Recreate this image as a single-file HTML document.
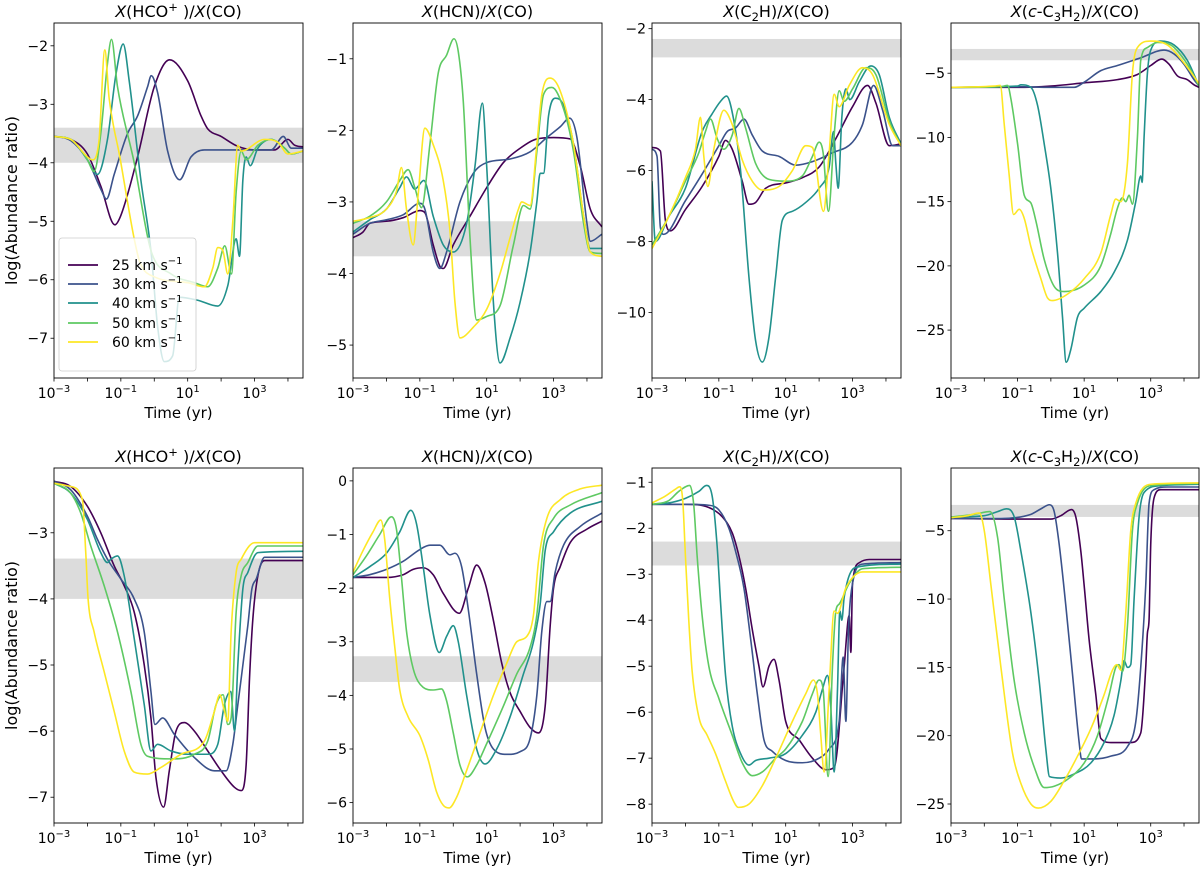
<!DOCTYPE html>
<html><head><meta charset="utf-8">
<style>
html,body{margin:0;padding:0;background:#fff;}
svg{display:block;font-family:"DejaVu Sans","Liberation Sans",sans-serif;}
</style></head>
<body>
<svg id="fig" width="1200" height="871" viewBox="0 0 1200 871" xmlns="http://www.w3.org/2000/svg"></svg>
<script>
// ---- data: [log10(time/yr), log(abundance ratio)] ----
const seriesLabels = ["25","30","40","50","60"];
const seriesColors = ["#440154","#3b528b","#21918c","#5ec962","#fde725"];
const titles = ["HCO+","HCN","C2H","c-C3H2","HCO+","HCN","C2H","c-C3H2"];
const bandLo = [-4.0,-3.76,-2.81,-3.99,-4.0,-3.75,-2.81,-3.99];
const bandHi = [-3.40,-3.27,-2.29,-3.11,-3.39,-3.27,-2.29,-3.11];
const yMins = [-7.68,-5.46,-11.85,-28.73,-7.39,-6.38,-8.41,-26.39];
const yMaxs = [-1.61,-0.50,-1.84,-1.09,-2.02,0.24,-0.69,-0.41];
const yTicks = [[-2,-3,-4,-5,-6,-7],[-1,-2,-3,-4,-5],[-2,-4,-6,-8,-10],[-5,-10,-15,-20,-25],
  [-3,-4,-5,-6,-7],[0,-1,-2,-3,-4,-5,-6],[-1,-2,-3,-4,-5,-6,-7,-8],[-5,-10,-15,-20,-25]];
const xTickLabels = [-3,-1,1,3];

const t1_25=[[-3,-3.55],[-2.5,-3.6],[-2,-3.85],[-1.6,-4.4],[-1.18,-5.06],[-1,-4.9],[-0.5,-3.9],[0,-2.7],[0.46,-2.24],[1,-2.6],[1.4,-3.2],[1.6,-3.42],[2,-3.55],[2.5,-3.72],[3,-3.78],[3.6,-3.78],[4.0,-3.6],[4.2,-3.7],[4.45,-3.73]];
const t1_30=[[-3,-3.55],[-2.5,-3.62],[-2,-3.95],[-1.6,-4.45],[-1.43,-4.62],[-1.2,-4.2],[-0.8,-3.5],[-0.5,-3.2],[-0.2,-2.7],[-0.09,-2.51],[0.1,-2.8],[0.4,-3.8],[0.76,-4.29],[1.1,-3.9],[1.5,-3.78],[3.5,-3.78],[3.86,-3.55],[4.1,-3.75],[4.45,-3.75]];
const t1_40=[[-3,-3.55],[-2.5,-3.6],[-2,-3.95],[-1.7,-4.2],[-1.4,-3.6],[-1.15,-2.5],[-0.93,-1.97],[-0.75,-2.6],[-0.4,-4.3],[-0.1,-5.5],[0.1,-6.8],[0.3,-7.4],[0.55,-7.3],[0.75,-6.3],[1.3,-6.35],[1.9,-6.45],[2.2,-6.1],[2.45,-5.3],[2.55,-5.6],[2.65,-4.3],[2.75,-3.9],[2.87,-4.05],[3.1,-3.75],[3.5,-3.6],[3.9,-3.75],[4.1,-3.85],[4.45,-3.8]];
const t1_50=[[-3,-3.55],[-2.5,-3.6],[-2,-3.95],[-1.8,-4.15],[-1.6,-3.5],[-1.4,-2.3],[-1.28,-1.89],[-1.1,-2.7],[-0.6,-4.0],[-0.1,-5.5],[0.5,-5.9],[1.2,-6.05],[1.6,-6.12],[1.9,-5.8],[2.11,-5.42],[2.31,-5.9],[2.45,-4.5],[2.6,-3.8],[2.75,-3.95],[3.1,-3.7],[3.5,-3.6],[3.9,-3.75],[4.1,-3.85],[4.45,-3.8]];
const t1_60=[[-3,-3.55],[-2.5,-3.6],[-2,-3.9],[-1.85,-3.95],[-1.65,-3.6],[-1.48,-2.07],[-1.35,-2.9],[-1.03,-3.9],[-0.6,-5.3],[-0.43,-5.7],[0,-5.95],[1.0,-6.05],[1.5,-6.12],[1.75,-5.8],[1.9,-5.45],[2.05,-5.5],[2.2,-5.9],[2.35,-5.0],[2.5,-3.7],[2.6,-3.8],[3.3,-3.6],[3.7,-3.65],[4.0,-3.85],[4.45,-3.8]];

const t2_25=[[-3,-3.5],[-2.7,-3.42],[-2.5,-3.3],[-2,-3.27],[-1.5,-3.22],[-1,-3.12],[-0.85,-3.15],[-0.6,-3.6],[-0.4,-3.9],[-0.3,-3.93],[0,-3.6],[0.5,-3.2],[1,-2.8],[1.5,-2.45],[2,-2.25],[2.5,-2.12],[3,-2.1],[3.5,-2.12],[3.8,-2.5],[4.1,-3.1],[4.45,-3.35]];
const t2_30=[[-3,-3.45],[-2.5,-3.3],[-2,-3.25],[-1.5,-3.18],[-1,-3.02],[-0.85,-3.1],[-0.6,-3.7],[-0.4,-3.93],[-0.2,-3.7],[0.2,-3.0],[0.6,-2.6],[1,-2.45],[1.7,-2.4],[2.3,-2.3],[2.8,-2.1],[3.2,-1.95],[3.48,-1.83],[3.7,-2.1],[4.0,-3.3],[4.1,-3.55],[4.45,-3.45]];
const t2_40=[[-3,-3.42],[-2.5,-3.25],[-2,-3.1],[-1.6,-2.8],[-1.4,-2.65],[-1.15,-2.82],[-0.88,-2.7],[-0.6,-3.2],[-0.3,-3.6],[0,-3.7],[0.4,-3.3],[0.65,-2.5],[0.87,-1.62],[1.0,-2.5],[1.2,-4.4],[1.4,-5.25],[1.7,-4.9],[2.0,-4.4],[2.3,-3.7],[2.5,-3.0],[2.6,-2.6],[2.7,-2.6],[2.85,-1.8],[3.05,-1.55],[3.3,-1.65],[3.6,-2.2],[3.9,-3.2],[4.1,-3.65],[4.45,-3.65]];
const t2_50=[[-3,-3.3],[-2.5,-3.2],[-2,-3.0],[-1.6,-2.7],[-1.35,-2.55],[-1.15,-2.8],[-0.95,-3.08],[-0.7,-2.2],[-0.45,-1.2],[-0.2,-0.95],[0.02,-0.72],[0.15,-0.9],[0.3,-1.6],[0.5,-3.5],[0.7,-4.65],[1.0,-4.6],[1.4,-4.45],[1.8,-3.6],[2.1,-3.05],[2.3,-3.1],[2.5,-2.3],[2.7,-1.5],[2.95,-1.4],[3.3,-1.7],[3.6,-2.3],[3.9,-3.3],[4.1,-3.7],[4.45,-3.72]];
const t2_60=[[-3,-3.27],[-2.5,-3.22],[-2,-3.1],[-1.7,-2.85],[-1.55,-2.52],[-1.4,-3.1],[-1.2,-3.6],[-1.05,-2.9],[-0.85,-1.97],[-0.6,-2.2],[-0.3,-2.7],[-0.1,-3.4],[0.05,-4.4],[0.2,-4.9],[0.6,-4.75],[1.0,-4.5],[1.4,-4.0],[1.7,-3.5],[1.95,-3.1],[2.05,-3.0],[2.3,-3.05],[2.5,-2.2],[2.65,-1.5],[2.9,-1.27],[3.2,-1.45],[3.6,-2.2],[3.9,-3.2],[4.1,-3.7],[4.45,-3.76]];

const t3_25=[[-3,-5.35],[-2.75,-5.45],[-2.6,-7.4],[-2.45,-7.7],[-2,-7.1],[-1.5,-6.45],[-1,-5.6],[-0.8,-5.15],[-0.6,-5.4],[-0.3,-6.3],[-0.1,-6.95],[0.1,-6.9],[0.4,-6.5],[1.0,-6.35],[1.5,-6.2],[2.0,-5.9],[2.5,-5.1],[3.0,-4.2],[3.45,-3.6],[3.7,-4.1],[4.1,-5.3],[4.45,-5.25]];
const t3_30=[[-3,-5.4],[-2.85,-5.6],[-2.75,-7.6],[-2.65,-7.8],[-2,-6.85],[-1.5,-6.1],[-1,-5.3],[-0.75,-4.9],[-0.5,-4.8],[-0.25,-4.55],[0,-5.0],[0.3,-5.45],[0.8,-5.6],[1.3,-5.85],[1.8,-5.75],[2.4,-5.5],[3.0,-5.2],[3.3,-4.7],[3.63,-3.6],[3.9,-4.3],[4.2,-5.3],[4.45,-5.3]];
const t3_40=[[-3,-6.3],[-2.9,-8.0],[-2.5,-7.3],[-2,-6.5],[-1.5,-4.9],[-1.2,-4.4],[-0.95,-4.05],[-0.77,-3.9],[-0.55,-4.6],[-0.35,-6.0],[-0.1,-9.0],[0.1,-10.8],[0.3,-11.4],[0.5,-10.7],[0.7,-9.0],[0.9,-7.4],[1.2,-7.15],[1.6,-6.9],[2.0,-6.5],[2.3,-5.9],[2.43,-4.9],[2.5,-5.8],[2.57,-6.5],[2.68,-4.5],[2.8,-3.7],[2.92,-4.0],[3.2,-3.5],[3.55,-3.05],[3.8,-3.3],[4.1,-4.5],[4.45,-5.25]];
const t3_50=[[-3,-8.1],[-2.5,-7.3],[-2,-6.3],[-1.6,-5.5],[-1.4,-4.9],[-1.25,-4.55],[-1.05,-5.1],[-0.85,-5.4],[-0.6,-5.0],[-0.4,-4.25],[-0.2,-4.8],[0.1,-5.8],[0.5,-6.25],[1.0,-6.3],[1.5,-6.15],[1.8,-5.6],[2.0,-5.2],[2.12,-5.5],[2.28,-7.15],[2.45,-5.0],[2.6,-3.75],[2.75,-4.05],[3.0,-3.7],[3.4,-3.1],[3.7,-3.3],[4.1,-4.6],[4.45,-5.3]];
const t3_60=[[-3,-8.2],[-2.5,-7.3],[-2,-6.2],[-1.7,-5.4],[-1.55,-4.5],[-1.45,-5.6],[-1.33,-6.45],[-1.15,-5.4],[-0.85,-4.3],[-0.6,-4.7],[-0.3,-5.7],[0,-6.3],[0.3,-6.55],[0.8,-6.45],[1.2,-6.0],[1.6,-5.3],[1.8,-5.35],[2.13,-7.15],[2.3,-5.5],[2.45,-3.85],[2.6,-4.2],[2.9,-3.6],[3.3,-3.1],[3.6,-3.3],[4.1,-4.7],[4.45,-5.3]];

const t4_25=[[-3,-6.1],[-1,-6.1],[0,-6.0],[1,-5.75],[2,-5.5],[2.6,-5.1],[3.0,-4.4],[3.33,-3.9],[3.55,-4.3],[3.8,-5.2],[4.1,-5.5],[4.3,-5.9],[4.45,-6.1]];
const t4_30=[[-3,-6.1],[-1,-6.05],[0,-6.1],[0.7,-6.1],[1.0,-5.7],[1.5,-4.8],[2.0,-4.4],[2.7,-3.8],[3.4,-3.2],[3.7,-3.5],[4.0,-4.3],[4.3,-5.5],[4.45,-6.0]];
const t4_40=[[-3,-6.1],[-1,-6.0],[-0.9,-5.9],[-0.6,-6.1],[-0.4,-7.5],[-0.2,-10.5],[0,-14],[0.2,-19],[0.35,-24],[0.46,-27.5],[0.6,-26.5],[0.8,-24],[1.0,-23.3],[1.5,-22],[1.9,-20.5],[2.3,-18],[2.55,-15],[2.7,-13],[2.74,-13.5],[2.8,-10],[2.9,-5],[3.0,-3.2],[3.3,-2.5],[3.7,-2.8],[4.1,-4],[4.45,-6]];
const t4_50=[[-3,-6.1],[-1.5,-6.05],[-1.3,-5.95],[-1.2,-7],[-1.0,-10.5],[-0.8,-14.5],[-0.6,-15.1],[-0.45,-16.5],[-0.2,-19.5],[0.1,-21.6],[0.4,-22],[1.0,-21.5],[1.5,-20],[1.8,-17.5],[2.0,-15.5],[2.15,-14.7],[2.25,-15],[2.35,-14.5],[2.45,-15.2],[2.6,-10],[2.7,-4],[2.9,-3],[3.2,-2.6],[3.6,-2.8],[4.1,-4.3],[4.45,-6]];
const t4_60=[[-3,-6.1],[-1.7,-6.0],[-1.52,-5.95],[-1.4,-9],[-1.25,-13],[-1.12,-16],[-0.95,-15.6],[-0.8,-16.3],[-0.6,-18.5],[-0.3,-21],[-0.1,-22.5],[0.05,-22.7],[0.5,-22.2],[1.0,-21],[1.5,-19],[1.8,-16],[1.95,-14.8],[2.1,-15],[2.3,-12],[2.45,-5],[2.6,-3],[3.0,-2.5],[3.5,-2.8],[4.0,-4.2],[4.45,-5.8]];

const b1_25=[[-3,-2.22],[-2.5,-2.3],[-2.0,-2.6],[-1.6,-3.0],[-1.2,-3.5],[-0.9,-3.8],[-0.6,-4.2],[-0.3,-5.0],[-0.1,-5.8],[0.05,-6.7],[0.28,-7.15],[0.45,-6.6],[0.65,-6.0],[0.9,-5.87],[1.2,-6.0],[1.6,-6.3],[2.0,-6.6],[2.4,-6.85],[2.6,-6.9],[2.75,-6.5],[2.85,-5.2],[2.95,-4.3],[3.1,-3.65],[3.3,-3.42],[4.45,-3.42]];
const b1_30=[[-3,-2.22],[-2.5,-2.35],[-2.0,-2.75],[-1.7,-3.1],[-1.4,-3.4],[-1.0,-3.7],[-0.6,-4.0],[-0.3,-4.5],[-0.1,-5.4],[0.02,-5.9],[0.25,-5.8],[0.6,-6.05],[1.2,-6.4],[1.8,-6.6],[2.15,-6.6],[2.35,-6.2],[2.5,-5.6],[2.8,-4.4],[2.92,-3.85],[3.05,-3.7],[3.3,-3.37],[4.45,-3.37]];
const b1_40=[[-3,-2.25],[-2.5,-2.4],[-2.0,-2.8],[-1.6,-3.3],[-1.4,-3.45],[-1.3,-3.4],[-1.1,-3.35],[-0.9,-3.65],[-0.6,-4.6],[-0.3,-5.6],[-0.1,-6.3],[0.1,-6.2],[0.5,-6.3],[1.0,-6.35],[1.6,-6.35],[1.9,-6.2],[2.1,-5.6],[2.29,-5.4],[2.4,-6.0],[2.5,-5.0],[2.65,-3.85],[2.8,-3.6],[3.1,-3.3],[4.45,-3.28]];
const b1_50=[[-3,-2.25],[-2.5,-2.4],[-2.2,-2.7],[-1.9,-3.2],[-1.5,-3.8],[-1.1,-4.5],[-0.7,-5.4],[-0.4,-6.2],[-0.2,-6.38],[0.5,-6.42],[1.2,-6.35],[1.6,-6.15],[1.85,-5.6],[2.06,-5.45],[2.2,-5.9],[2.3,-5.8],[2.45,-4.2],[2.6,-3.65],[2.8,-3.45],[3.1,-3.2],[4.45,-3.2]];
const b1_60=[[-3,-2.25],[-2.5,-2.3],[-2.15,-2.5],[-2.05,-3.3],[-1.98,-4.0],[-1.8,-4.5],[-1.5,-5.1],[-1.2,-5.7],[-0.9,-6.3],[-0.6,-6.62],[-0.2,-6.65],[0.2,-6.55],[0.8,-6.35],[1.5,-6.15],[1.8,-5.7],[1.96,-5.45],[2.1,-5.7],[2.2,-5.85],[2.3,-4.5],[2.45,-3.6],[2.6,-3.4],[3.0,-3.15],[4.45,-3.15]];

const b2_25=[[-3,-1.8],[-2,-1.8],[-1.5,-1.75],[-1.2,-1.65],[-0.9,-1.62],[-0.6,-1.75],[-0.3,-2.1],[0.18,-2.47],[0.45,-2.0],[0.7,-1.57],[0.95,-1.9],[1.2,-2.6],[1.45,-3.4],[1.7,-3.95],[2.0,-4.3],[2.3,-4.6],[2.55,-4.7],[2.75,-4.2],[2.9,-2.7],[3.0,-2.0],[3.2,-1.6],[3.5,-1.15],[4.0,-0.9],[4.45,-0.75]];
const b2_30=[[-3,-1.8],[-2.5,-1.75],[-2,-1.65],[-1.5,-1.5],[-1.0,-1.28],[-0.7,-1.2],[-0.4,-1.2],[-0.1,-1.38],[0.05,-1.35],[0.25,-1.6],[0.45,-2.4],[0.7,-3.6],[0.95,-4.6],[1.2,-5.0],[1.6,-5.1],[2.0,-5.05],[2.3,-4.8],[2.5,-4.0],[2.65,-2.8],[2.8,-2.25],[2.9,-2.25],[3.05,-1.7],[3.3,-1.2],[3.8,-0.85],[4.45,-0.6]];
const b2_40=[[-3,-1.8],[-2.5,-1.6],[-2,-1.35],[-1.6,-0.95],[-1.27,-0.55],[-1.1,-0.8],[-0.9,-1.6],[-0.7,-2.5],[-0.42,-3.2],[-0.2,-2.9],[0,-2.7],[0.15,-3.0],[0.4,-4.0],[0.7,-5.0],[0.95,-5.28],[1.3,-5.0],[1.7,-4.4],[2.1,-3.6],[2.4,-3.0],[2.6,-2.3],[2.75,-1.3],[3.0,-0.95],[3.5,-0.6],[4.45,-0.38]];
const b2_50=[[-3,-1.75],[-2.6,-1.4],[-2.2,-1.0],[-1.85,-0.67],[-1.7,-0.9],[-1.55,-1.8],[-1.4,-2.8],[-1.2,-3.5],[-0.9,-3.85],[-0.6,-3.9],[-0.35,-3.88],[-0.2,-4.1],[0,-4.7],[0.2,-5.3],[0.42,-5.52],[0.7,-5.3],[1.0,-4.9],[1.5,-4.2],[1.9,-3.6],[2.3,-3.1],[2.5,-2.5],[2.7,-1.2],[3.0,-0.7],[3.5,-0.45],[4.45,-0.22]];
const b2_60=[[-3,-1.7],[-2.7,-1.3],[-2.4,-0.95],[-2.17,-0.73],[-2.05,-1.1],[-1.9,-2.2],[-1.75,-3.1],[-1.6,-3.9],[-1.35,-4.4],[-1.0,-4.75],[-0.75,-5.2],[-0.5,-5.8],[-0.3,-6.05],[-0.13,-6.1],[0.1,-5.9],[0.4,-5.4],[0.8,-4.7],[1.2,-4.0],[1.6,-3.4],[1.9,-3.0],[2.2,-2.9],[2.4,-2.5],[2.55,-1.5],[2.8,-0.7],[3.2,-0.35],[3.8,-0.15],[4.45,-0.08]];

const b3_25=[[-3,-1.48],[-2,-1.48],[-1.3,-1.55],[-0.9,-1.75],[-0.6,-2.1],[-0.4,-2.6],[-0.2,-3.3],[0.0,-4.2],[0.2,-5.0],[0.32,-5.45],[0.5,-5.0],[0.65,-4.85],[0.8,-5.3],[1.0,-6.2],[1.4,-6.6],[1.8,-7.0],[2.2,-7.25],[2.45,-7.2],[2.75,-5.0],[2.9,-3.9],[2.95,-4.7],[3.0,-3.2],[3.2,-2.75],[3.5,-2.68],[4.45,-2.68]];
const b3_30=[[-3,-1.48],[-2,-1.48],[-1.3,-1.5],[-1.0,-1.6],[-0.7,-2.0],[-0.5,-2.5],[-0.25,-3.3],[-0.05,-4.4],[0.15,-5.6],[0.35,-6.6],[0.6,-6.85],[1.0,-7.05],[1.5,-7.1],[2.0,-7.0],[2.3,-6.8],[2.6,-6.2],[2.72,-4.8],[2.8,-6.2],[2.88,-4.2],[3.0,-3.2],[3.3,-2.78],[4.45,-2.75]];
const b3_40=[[-3,-1.48],[-2.5,-1.45],[-2,-1.35],[-1.6,-1.2],[-1.37,-1.07],[-1.2,-1.3],[-1.05,-2.4],[-0.95,-3.6],[-0.8,-5.2],[-0.6,-6.3],[-0.35,-6.9],[-0.1,-7.15],[0.1,-7.05],[0.5,-7.0],[1.0,-6.9],[1.5,-6.5],[1.9,-6.0],[2.1,-5.5],[2.25,-5.2],[2.35,-5.9],[2.45,-7.3],[2.55,-5.5],[2.62,-3.8],[2.68,-4.0],[2.75,-3.5],[3.1,-2.85],[4.45,-2.78]];
const b3_50=[[-3,-1.48],[-2.5,-1.4],[-2.2,-1.2],[-1.87,-1.07],[-1.75,-1.5],[-1.65,-2.6],[-1.5,-3.9],[-1.3,-5.0],[-1.0,-5.7],[-0.6,-6.5],[-0.3,-7.1],[0,-7.38],[0.3,-7.3],[0.7,-7.0],[1.0,-6.8],[1.5,-6.2],[1.8,-5.6],[2.0,-5.3],[2.12,-5.5],[2.27,-7.4],[2.4,-5.0],[2.5,-3.8],[2.6,-3.65],[2.9,-3.2],[3.3,-2.88],[4.45,-2.85]];
const b3_60=[[-3,-1.45],[-2.6,-1.3],[-2.3,-1.15],[-2.17,-1.1],[-2.08,-1.4],[-2.0,-2.6],[-1.9,-4.0],[-1.8,-5.1],[-1.6,-6.1],[-1.35,-6.5],[-1.1,-6.9],[-0.8,-7.5],[-0.55,-7.95],[-0.42,-8.07],[-0.1,-8.0],[0.3,-7.6],[0.7,-7.0],[1.2,-6.2],[1.6,-5.6],[1.83,-5.3],[1.95,-5.6],[2.05,-6.5],[2.15,-7.3],[2.3,-5.5],[2.45,-3.8],[2.55,-3.85],[2.8,-3.3],[3.3,-2.95],[4.45,-2.95]];

const b4_25=[[-3,-4.1],[-1,-4.15],[0,-4.15],[0.3,-3.9],[0.62,-3.45],[0.75,-4.0],[0.9,-6.5],[1.0,-9],[1.15,-13],[1.35,-17],[1.5,-20.2],[1.8,-20.5],[2.4,-20.5],[2.7,-19.8],[2.85,-15],[2.9,-12.5],[2.95,-11.5],[3.0,-6],[3.1,-2.6],[3.3,-2.0],[4.45,-2.0]];
const b4_30=[[-3,-4.1],[-1.5,-4.1],[-0.6,-3.8],[-0.3,-3.4],[-0.04,-3.1],[0.1,-3.6],[0.25,-6],[0.45,-10.5],[0.65,-15.5],[0.85,-20.5],[0.92,-21.7],[1.3,-21.7],[1.8,-21.5],[2.3,-20.8],[2.55,-19],[2.7,-15],[2.85,-9],[2.95,-3],[3.1,-2.0],[3.5,-1.8],[4.45,-1.8]];
const b4_40=[[-3,-4.0],[-2,-3.9],[-1.6,-3.6],[-1.33,-3.4],[-1.1,-4.0],[-0.9,-6.5],[-0.6,-11],[-0.35,-16],[-0.15,-21],[-0.04,-23.0],[0.3,-23.1],[0.7,-22.8],[1.2,-22],[1.6,-20.5],[1.9,-18.5],[2.1,-16],[2.2,-14.5],[2.3,-15],[2.4,-14.8],[2.5,-10],[2.65,-4],[2.8,-2.2],[3.3,-1.7],[4.45,-1.6]];
const b4_50=[[-3,-4.0],[-2.3,-3.8],[-1.83,-3.6],[-1.6,-5.5],[-1.4,-10],[-1.1,-16],[-0.8,-19.8],[-0.5,-22.3],[-0.2,-23.8],[0.1,-23.7],[0.5,-23.2],[1.0,-22],[1.4,-20],[1.75,-17],[1.95,-15],[2.05,-14.8],[2.15,-15.3],[2.3,-12],[2.45,-5],[2.6,-3],[3.0,-1.7],[4.45,-1.55]];
const b4_60=[[-3,-4.05],[-2.5,-3.9],[-2.15,-3.7],[-2.0,-5],[-1.8,-9],[-1.5,-15],[-1.15,-21.3],[-0.9,-23.5],[-0.6,-25],[-0.38,-25.3],[0,-24.8],[0.4,-23.3],[0.8,-21.5],[1.2,-19.5],[1.6,-17],[1.85,-15.2],[1.98,-14.8],[2.1,-15.2],[2.25,-11],[2.4,-5],[2.55,-3],[3.0,-1.6],[4.45,-1.5]];

const panelSeries = [
  [t1_25,t1_30,t1_40,t1_50,t1_60],[t2_25,t2_30,t2_40,t2_50,t2_60],
  [t3_25,t3_30,t3_40,t3_50,t3_60],[t4_25,t4_30,t4_40,t4_50,t4_60],
  [b1_25,b1_30,b1_40,b1_50,b1_60],[b2_25,b2_30,b2_40,b2_50,b2_60],
  [b3_25,b3_30,b3_40,b3_50,b3_60],[b4_25,b4_30,b4_40,b4_50,b4_60]];

// ---- layout ----
const NS = "http://www.w3.org/2000/svg";
const svg = document.getElementById('fig');
const colL = [54,353,652,951], colR = [303,602,901,1199];
const rowT = [23,468], rowB = [378,823];
const XMIN = -3, XMAX = 4.45;

function mk(tag, attrs, parent){
  const e = document.createElementNS(NS, tag);
  for (const k in attrs) e.setAttribute(k, attrs[k]);
  (parent||svg).appendChild(e);
  return e;
}
function fmt(v){ return (v<0?"\u2212":"")+Math.abs(v); }

function monoPath(pts){
  const n = pts.length; if(n<2) return "";
  const d=[], m=new Array(n);
  for(let i=0;i<n-1;i++) d.push((pts[i+1][1]-pts[i][1])/(pts[i+1][0]-pts[i][0]));
  m[0]=d[0]; m[n-1]=d[n-2];
  for(let i=1;i<n-1;i++){ m[i] = (d[i-1]*d[i]<=0)?0:(d[i-1]+d[i])/2; }
  for(let i=0;i<n-1;i++){
    if(d[i]===0){m[i]=0;m[i+1]=0;continue;}
    const a=m[i]/d[i], b=m[i+1]/d[i], s=a*a+b*b;
    if(s>9){const t=3/Math.sqrt(s); m[i]=t*a*d[i]; m[i+1]=t*b*d[i];}
  }
  let p="M"+pts[0][0].toFixed(2)+","+pts[0][1].toFixed(2);
  for(let i=0;i<n-1;i++){
    const h=(pts[i+1][0]-pts[i][0])/3;
    p+="C"+(pts[i][0]+h).toFixed(2)+","+(pts[i][1]+m[i]*h).toFixed(2)+" "+
      (pts[i+1][0]-h).toFixed(2)+","+(pts[i+1][1]-m[i+1]*h).toFixed(2)+" "+
      pts[i+1][0].toFixed(2)+","+pts[i+1][1].toFixed(2);
  }
  return p;
}

function titleText(g, k, cx, y){
  const t = mk('text',{x:cx,y:y,'text-anchor':'middle','font-size':16,fill:'#000'},g);
  
  
  function sp(txt, o){ const s=mk('tspan',o||{},t); s.textContent=txt; return s; }
  sp('X',{'font-style':'italic'}); sp('(');
  if(k==="HCO+"){ sp('HCO'); sp('+',{dy:-6,'font-size':11.5}); sp(' )',{dy:6}); }
  else if(k==="HCN"){ sp('HCN)'); }
  else if(k==="C2H"){ sp('C'); sp('2',{dy:4,'font-size':11.5}); sp('H)',{dy:-4}); }
  else { sp('c',{'font-style':'italic'}); sp('-C'); sp('3',{dy:4,'font-size':11.5}); sp('H',{dy:-4}); sp('2',{dy:4,'font-size':11.5}); sp(')',{dy:-4}); }
  sp('/'); sp('X',{'font-style':'italic'}); sp('(CO)');
}

for(let p=0;p<8;p++){
  const r = p<4?0:1, c = p%4;
  const L=colL[c], R=colR[c], T=rowT[r], B=rowB[r];
  const ymin=yMins[p], ymax=yMaxs[p];
  const sx = v => L + (v-XMIN)/(XMAX-XMIN)*(R-L);
  const sy = v => B - (v-ymin)/(ymax-ymin)*(B-T);
  const g = mk('g',{});
  
  
  const cid='clip'+p;
  const cp = mk('clipPath',{id:cid},g); mk('rect',{x:L,y:T,width:R-L,height:B-T},cp);
  const band = mk('rect',{x:L,y:sy(bandHi[p]),width:R-L,height:sy(bandLo[p])-sy(bandHi[p]),fill:'#dcdcdc'},g);
  
  
  const lg = mk('g',{'clip-path':'url(#'+cid+')'},g);
  panelSeries[p].forEach((s,i)=>{
    const pts = s.map(q=>[sx(q[0]),sy(q[1])]);
    const path = mk('path',{d:monoPath(pts),fill:'none',stroke:seriesColors[i],'stroke-width':1.6,'stroke-linejoin':'round'},lg);
    
    
  });
  mk('rect',{x:L,y:T,width:R-L,height:B-T,fill:'none',stroke:'#000','stroke-width':0.9},g);
  for(let d=-3; d<=4; d++){
    const x=sx(d);
    mk('line',{x1:x,y1:B,x2:x,y2:B+3.5,stroke:'#000','stroke-width':0.8},g);
  }
  xTickLabels.forEach(d=>{
    const x=sx(d);
    const t=mk('text',{x:x,y:B+20,'text-anchor':'middle','font-size':14,fill:'#000'},g);
    
    
    const a=mk('tspan',{},t); a.textContent='10';
    const b=mk('tspan',{dy:-6,'font-size':10},t); b.textContent=fmt(d);
  });
  const xl=mk('text',{x:(L+R)/2,y:B+40,'text-anchor':'middle','font-size':15,fill:'#000'},g);
  
  
  xl.textContent='Time (yr)';
  yTicks[p].forEach(v=>{
    const y=sy(v);
    mk('line',{x1:L-3.5,y1:y,x2:L,y2:y,stroke:'#000','stroke-width':0.8},g);
    const t=mk('text',{x:L-6,y:y+5,'text-anchor':'end','font-size':14,fill:'#000'},g);
    
    
    t.textContent=fmt(v);
  });
  titleText(g, titles[p], (L+R)/2, T-6);
}

[200.5,645.5].forEach((cy,i)=>{
  const t=mk('text',{x:0,y:0,transform:'translate(17,'+cy+') rotate(-90)','text-anchor':'middle','font-size':16,fill:'#000'});
  
  
  t.textContent='log(Abundance ratio)';
});

const leg = mk('g',{});


mk('rect',{x:59,y:238,width:137,height:133,rx:3,fill:'#fff','fill-opacity':0.8,stroke:'#ccc','stroke-width':0.8},leg);
const legY=[265,284,303,323,342];
seriesLabels.forEach((lab,i)=>{
  const e=mk('g',{},leg);
  
  
  mk('line',{x1:68,y1:legY[i],x2:98,y2:legY[i],stroke:seriesColors[i],'stroke-width':1.8},e);
  const t=mk('text',{x:112,y:legY[i]+5,'font-size':14,fill:'#000'},e);
  const a=mk('tspan',{},t); a.textContent=lab+' km s';
  const b=mk('tspan',{dy:-6,'font-size':10},t); b.textContent='\u22121';
});
</script>
</body></html>
